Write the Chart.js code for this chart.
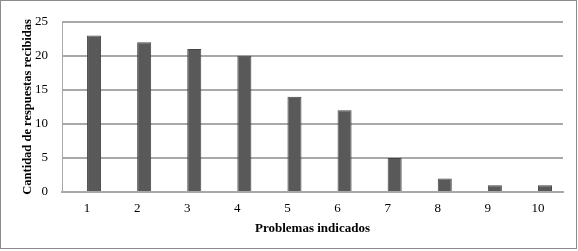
<!DOCTYPE html>
<html>
<head>
<meta charset="utf-8">
<script src="https://cdn.jsdelivr.net/npm/chart.js@4"></script>
<style>
  html, body { margin: 0; padding: 0; background: #fff; }
  #wrap { position: relative; width: 578px; height: 251px; }
  #frame { position: absolute; left: 0; top: 0; width: 575px; height: 247px; border: 1px solid #8c8c8c; pointer-events: none; }
</style>
</head>
<body>
<div id="wrap">
  <canvas id="problemsChart" width="578" height="251"></canvas>
  <div id="frame"></div>
</div>
<script>
// data
const categories = ['1', '2', '3', '4', '5', '6', '7', '8', '9', '10'];
const emptySeries = [null, null, null, null, null, null, null, null, null, null];
const responses = [23, 22, 21, 20, 14, 12, 5, 2, 1, 1];
const yMin = 0;
const yMax = 25;
const yStep = 5;

const xTitle = 'Problemas indicados';
const yTitle = 'Cantidad de respuestas recibidas';

const serif = '"Liberation Serif", "Times New Roman", serif';

const ctx = document.getElementById('problemsChart').getContext('2d');
const problemsChart = new Chart(ctx, {
    type: 'bar',
    data: {
        labels: categories,
        datasets: [
            {
                label: 'vacío',
                data: emptySeries,
                backgroundColor: '#595959'
            },
            {
                label: 'Respuestas',
                data: responses,
                backgroundColor: '#595959',
                borderColor: '#454545',
                borderWidth: 1
            }
        ]
    },
    options: {
        responsive: false,
        animation: false,
        layout: { padding: { left: 0, top: 15, right: 15, bottom: 0 } },
        plugins: {
            legend: { display: false },
            tooltip: { enabled: false }
        },
        datasets: {
            bar: { categoryPercentage: 0.56, barPercentage: 1.0 }
        },
        scales: {
            x: {
                grid: { display: false, drawTicks: false },
                border: { display: true, color: '#a8a8a8', width: 2 },
                ticks: {
                    color: '#000',
                    padding: 9,
                    font: { family: serif, size: 13 }
                },
                title: {
                    display: true,
                    text: xTitle,
                    color: '#000',
                    padding: { top: 4, bottom: 15 },
                    font: { family: serif, size: 13, weight: 'bold' }
                },
                afterFit: (scale) => { scale.height = 59; }
            },
            y: {
                min: yMin,
                max: yMax,
                grid: {
                    display: true,
                    drawTicks: false,
                    color: '#a8a8a8',
                    lineWidth: 2
                },
                border: { display: true, color: '#a8a8a8', width: 1 },
                ticks: {
                    stepSize: yStep,
                    color: '#000',
                    padding: 14,
                    font: { family: serif, size: 13 }
                },
                title: {
                    display: true,
                    text: yTitle,
                    color: '#000',
                    padding: { top: 20, bottom: 0 },
                    font: { family: serif, size: 12.5, weight: 'bold' }
                },
                afterFit: (scale) => { scale.width = 62; }
            }
        }
    }
});
</script>
</body>
</html>
